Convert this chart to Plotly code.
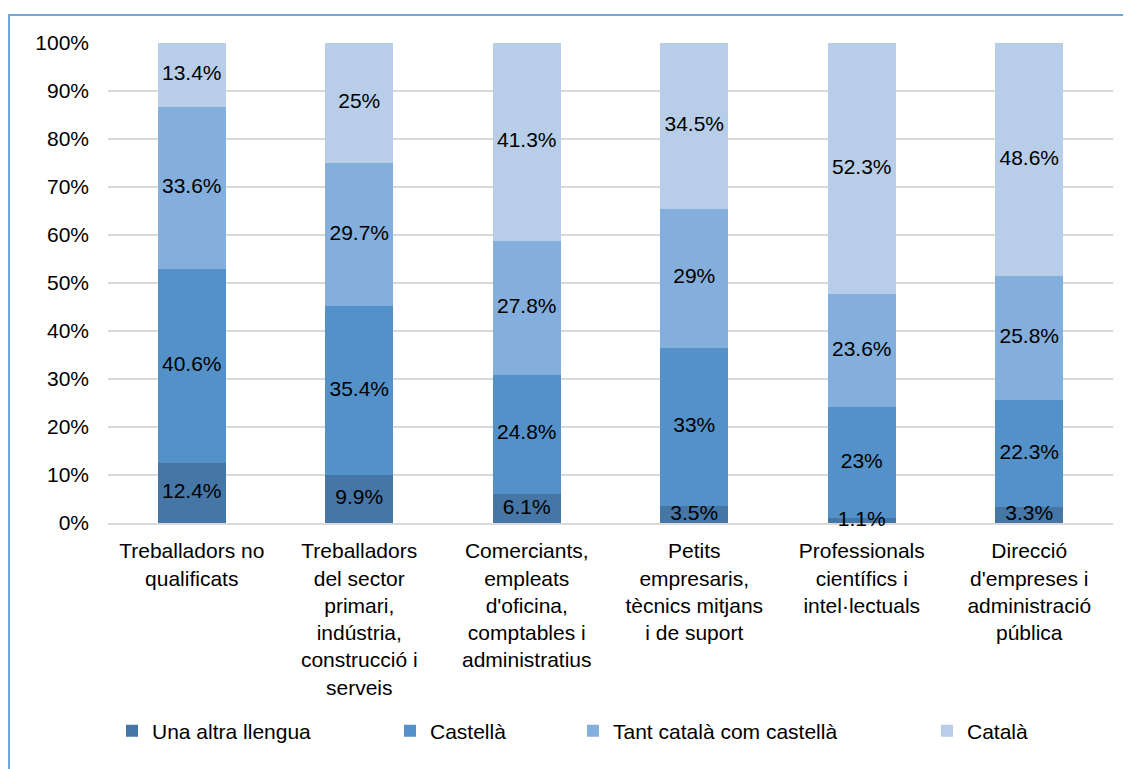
import plotly.graph_objects as go

categories = [
    "Treballadors no<br>qualificats",
    "Treballadors<br>del sector<br>primari,<br>indústria,<br>construcció i<br>serveis",
    "Comerciants,<br>empleats<br>d'oficina,<br>comptables i<br>administratius",
    "Petits<br>empresaris,<br>tècnics mitjans<br>i de suport",
    "Professionals<br>científics i<br>intel·lectuals",
    "Direcció<br>d'empreses i<br>administració<br>pública",
]
una_altra = [12.4, 9.9, 6.1, 3.5, 1.1, 3.3]
castella = [40.6, 35.4, 24.8, 33, 23, 22.3]
tant = [33.6, 29.7, 27.8, 29, 23.6, 25.8]
catala = [13.4, 25, 41.3, 34.5, 52.3, 48.6]
series_names = ["Una altra llengua", "Castellà", "Tant català com castellà", "Català"]
y_ticks = [0, 10, 20, 30, 40, 50, 60, 70, 80, 90, 100]
y_tick_labels = [f"{v}%" for v in y_ticks]

colors = ["#4676A6", "#5591C9", "#84AEDB", "#B8CEE8"]
series = [una_altra, castella, tant, catala]
FONT = "Liberation Sans, Arial, sans-serif"
FS = 21

# page offset (body margin) and figure size
OFF = 8
W, H = 1131 - OFF, 769 - OFF
# plot area in page coordinates
PX0, PX1, PY0, PY1 = 108, 1113, 43, 523
L = PX0 - OFF
R = W - (PX1 - OFF)
T = PY0 - OFF
B = H - (PY1 - OFF)
pw, ph = PX1 - PX0, PY1 - PY0

def px_x(p):
    return (p - PX0) / pw

def px_y(p):
    return (PY1 - p) / ph

legend_names = ["legend", "legend2", "legend3", "legend4"]
text_starts = [152, 430, 613, 967]

fig = go.Figure()
for name, vals, col, lg in zip(series_names, series, colors, legend_names):
    fig.add_trace(go.Bar(
        x=categories, y=vals, name=name,
        marker=dict(color=col, line=dict(width=0)),
        width=0.405, legend=lg,
        hoverinfo="skip",
    ))

# data labels centred in each segment
lab_x, lab_y, lab_t = [], [], []
for i, c in enumerate(categories):
    base = 0
    for vals in series:
        v = vals[i]
        lab_x.append(c)
        lab_y.append(base + v / 2)
        lab_t.append(f"{v:g}%")
        base += v
fig.add_trace(go.Scatter(
    x=lab_x, y=lab_y, text=lab_t, mode="text",
    textposition="middle center",
    textfont=dict(family=FONT, size=FS, color="black"),
    cliponaxis=False, showlegend=False, hoverinfo="skip",
))

layout_legends = {}
for lg, xs in zip(legend_names, text_starts):
    layout_legends[lg] = dict(
        orientation="h", x=px_x(xs - 40), xanchor="left",
        y=px_y(731), yanchor="middle",
        font=dict(family=FONT, size=FS, color="black"),
        bgcolor="rgba(0,0,0,0)", itemwidth=30,
        traceorder="normal",
    )

fig.update_layout(
    width=W, height=H,
    margin=dict(l=L, r=R, t=T, b=B, autoexpand=False),
    barmode="stack",
    plot_bgcolor="white", paper_bgcolor="white",
    font=dict(family=FONT, size=FS, color="black"),
    showlegend=True,
    **layout_legends,
    xaxis=dict(
        showgrid=False, showline=True, linecolor="#D9D9D9", linewidth=2,
        ticks="", tickfont=dict(family=FONT, size=FS, color="black"),
        ticklabelstandoff=8, tickangle=0, layer="below traces",
    ),
    yaxis=dict(
        range=[0, 100], tickmode="array", tickvals=y_ticks, ticktext=y_tick_labels,
        showgrid=True, gridcolor="#D9D9D9", gridwidth=2,
        zeroline=False, showline=False, ticks="",
        tickfont=dict(family=FONT, size=FS, color="black"),
        ticklabelstandoff=18,
    ),
    shapes=[dict(
        type="path", xref="paper", yref="paper",
        path=f"M {px_x(9)} {px_y(800)} L {px_x(9)} {px_y(15)} L {px_x(1160)} {px_y(15)}",
        line=dict(color="#6FA6DC", width=2), layer="below",
    )],
)

fig.write_html("out.html")
